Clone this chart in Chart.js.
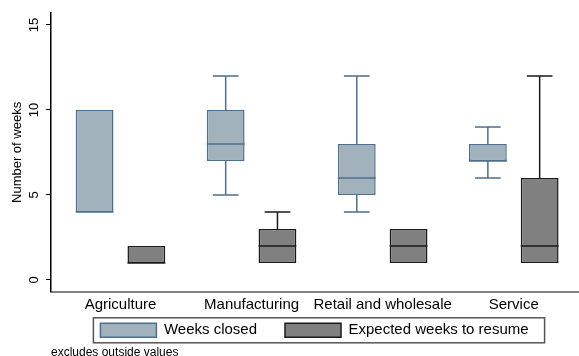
<!DOCTYPE html>
<html>
<head>
<meta charset="utf-8">
<script src="https://cdn.jsdelivr.net/npm/chart.js@4.4.0/dist/chart.umd.min.js"></script>
<style>
  body { margin: 0; background: #fff; }
  canvas { display: block; }
</style>
</head>
<body>
<canvas id="box-chart" width="579" height="356"></canvas>
<script>
// Sectors on the x axis
const sectors = ['Agriculture', 'Manufacturing', 'Retail and wholesale', 'Service'];

// Weeks closed: box plot stats per sector
const closedMin = [4, 5, 4, 6];
const closedQ1 = [4, 7, 5, 7];
const closedMedian = [4, 8, 6, 7];
const closedQ3 = [10, 10, 8, 8];
const closedMax = [10, 12, 12, 9];

// Expected weeks to resume: box plot stats per sector
const resumeMin = [1, 1, 1, 1];
const resumeQ1 = [1, 1, 1, 1];
const resumeMedian = [1, 2, 2, 2];
const resumeQ3 = [2, 3, 3, 6];
const resumeMax = [2, 4, 3, 12];

const yTicks = [0, 5, 10, 15];

// Draws whiskers and median lines on top of the floating bars
const boxPlotPlugin = {
    id: 'boxPlot',
    afterLayout(chart) {
        // legend rows sit closer to the axis than the legend padding would allow
        chart.legend.top -= 21;
    },
    afterDatasetsDraw(chart) {
        const ctx = chart.ctx;
        const yScale = chart.scales.y;
        chart.data.datasets.forEach((ds, i) => {
            const meta = chart.getDatasetMeta(i);
            meta.data.forEach((bar, j) => {
                const x = bar.x;
                const half = bar.width / 2;
                const capHalf = bar.width * 0.34;
                const yMin = yScale.getPixelForValue(ds.stats.min[j]);
                const yQ1 = yScale.getPixelForValue(ds.stats.q1[j]);
                const yMed = yScale.getPixelForValue(ds.stats.median[j]);
                const yQ3 = yScale.getPixelForValue(ds.stats.q3[j]);
                const yMax = yScale.getPixelForValue(ds.stats.max[j]);
                ctx.save();
                ctx.strokeStyle = ds.borderColor;
                ctx.lineWidth = 1.5;
                // upper whisker
                if (ds.stats.max[j] > ds.stats.q3[j]) {
                    ctx.beginPath();
                    ctx.moveTo(x, yQ3);
                    ctx.lineTo(x, yMax);
                    ctx.moveTo(x - capHalf, yMax);
                    ctx.lineTo(x + capHalf, yMax);
                    ctx.stroke();
                }
                // lower whisker
                if (ds.stats.min[j] < ds.stats.q1[j]) {
                    ctx.beginPath();
                    ctx.moveTo(x, yQ1);
                    ctx.lineTo(x, yMin);
                    ctx.moveTo(x - capHalf, yMin);
                    ctx.lineTo(x + capHalf, yMin);
                    ctx.stroke();
                }
                // median
                ctx.beginPath();
                ctx.moveTo(x - half, yMed);
                ctx.lineTo(x + half, yMed);
                ctx.stroke();
                ctx.restore();
            });
        });
    },
    afterDraw(chart) {
        // frame around the legend
        const boxes = chart.legend.legendHitBoxes;
        if (!boxes || !boxes.length) return;
        const left = Math.min(...boxes.map(b => b.left)) - 7;
        const right = Math.max(...boxes.map(b => b.left + b.width)) + 16;
        const top = Math.min(...boxes.map(b => b.top)) - 5;
        const bottom = Math.max(...boxes.map(b => b.top + b.height)) + 5;
        const ctx = chart.ctx;
        ctx.save();
        ctx.strokeStyle = '#555';
        ctx.lineWidth = 1.5;
        ctx.strokeRect(left, top, right - left, bottom - top);
        ctx.restore();
    }
};

function drawBoxChart() {
    const ctx = document.getElementById('box-chart').getContext('2d');
    new Chart(ctx, {
        type: 'bar',
        data: {
            labels: sectors,
            datasets: [
                {
                    label: 'Weeks closed',
                    data: closedQ1.map((v, i) => [v, closedQ3[i]]),
                    stats: { min: closedMin, q1: closedQ1, median: closedMedian, q3: closedQ3, max: closedMax },
                    backgroundColor: '#a2b2bd',
                    borderColor: '#4d6f8b',
                    borderWidth: 1.5,
                    borderSkipped: false
                },
                {
                    label: 'Expected weeks to resume',
                    data: resumeQ1.map((v, i) => [v, resumeQ3[i]]),
                    stats: { min: resumeMin, q1: resumeQ1, median: resumeMedian, q3: resumeQ3, max: resumeMax },
                    backgroundColor: '#808080',
                    borderColor: '#1a1a1a',
                    borderWidth: 1.5,
                    borderSkipped: false
                }
            ]
        },
        options: {
            responsive: false,
            animation: false,
            devicePixelRatio: 1,
            categoryPercentage: 0.79,
            barPercentage: 0.73,
            layout: { padding: { top: 13, right: 1, left: 0, bottom: 0 } },
            scales: {
                x: {
                    grid: { display: false, drawTicks: false },
                    border: { display: true, color: '#808080', width: 2 },
                    ticks: {
                        color: '#000',
                        font: { family: 'Liberation Sans, Arial, sans-serif', size: 15 },
                        padding: 4,
                        autoSkip: false,
                        maxRotation: 0
                    },
                    afterBuildTicks(scale) {
                        // Stata leaves a slightly wider gap before the first sector
                        scale._startValue = -0.53;
                        scale._valueRange = 4.02;
                    },
                    afterFit(scale) { scale.height = 24; }
                },
                y: {
                    min: -0.7,
                    max: 15.7,
                    afterBuildTicks(scale) {
                        scale.ticks = yTicks.map(v => ({ value: v }));
                    },
                    grid: { drawOnChartArea: false, drawTicks: true, tickLength: 5, color: '#000' },
                    border: { display: true, color: '#000', width: 1.5 },
                    ticks: {
                        color: '#000',
                        font: { family: 'Liberation Sans, Arial, sans-serif', size: 13 },
                        minRotation: 90,
                        maxRotation: 90,
                        crossAlign: 'center',
                        padding: 4
                    },
                    title: {
                        display: true,
                        text: 'Number of weeks',
                        color: '#000',
                        font: { family: 'Liberation Sans, Arial, sans-serif', size: 13 },
                        padding: { top: 10, bottom: 0 }
                    },
                    afterFit(scale) { scale.width = 51; }
                }
            },
            plugins: {
                legend: {
                    position: 'bottom',
                    fullSize: false,
                    maxHeight: 31,
                    labels: {
                        color: '#000',
                        font: { family: 'Liberation Sans, Arial, sans-serif', size: 15 },
                        boxWidth: 56,
                        boxHeight: 14,
                        padding: 28
                    }
                },
                subtitle: {
                    display: true,
                    text: 'excludes outside values',
                    position: 'bottom',
                    align: 'start',
                    fullSize: false,
                    color: '#000',
                    font: { family: 'Liberation Sans, Arial, sans-serif', size: 12, lineHeight: 0.6 },
                    padding: { top: 2, bottom: 0 }
                },
                tooltip: { enabled: false }
            }
        },
        plugins: [boxPlotPlugin]
    });
}

document.addEventListener('DOMContentLoaded', function() {
    drawBoxChart();
});
</script>
</body>
</html>
